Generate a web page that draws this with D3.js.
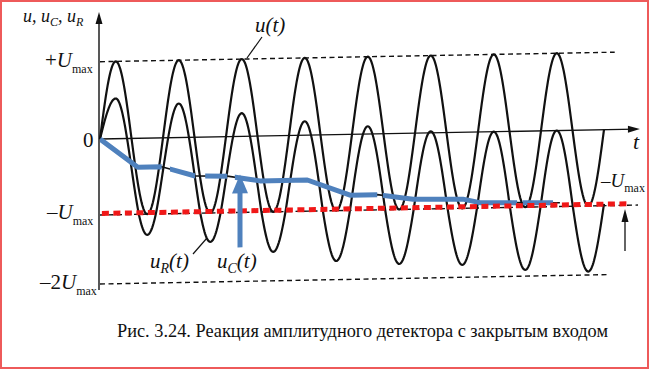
<!DOCTYPE html>
<html>
<head>
<meta charset="utf-8">
<script src="https://cdn.jsdelivr.net/npm/d3@7"></script>
<style>
  body { margin: 0; background: #fff; }
  text { fill: #111; }
  .it { font-style: italic; }
</style>
</head>
<body>
<svg id="vis" width="650" height="371" font-family="Liberation Serif, Times New Roman, DejaVu Serif, serif"></svg>
<script>
// time in periods of u(t); values in units of Umax
const extremeTimes = [0.25, 0.75, 1.25, 1.75, 2.25, 2.75, 3.25, 3.75, 4.25, 4.75, 5.25, 5.75, 6.25, 6.75, 7.25, 7.75, 8.25];
const uExtremes  = [1, -1, 1, -1, 1, -1, 1, -1, 1, -1, 1, -1, 1, -1, 1, -1, 1];
const uRExtremes = [0.52, -1.30, 0.44, -1.42, 0.30, -1.58, 0.18, -1.73, 0.10, -1.79, 0.02, -1.82, 0, -1.91, 0, -1.95, 0];
const tEnd = 8;

// capacitor voltage u_C(t)
const ucTimes  = [0, 0.60, 0.98, 1.51, 2.02, 2.54, 3.29, 3.97, 4.40, 4.97, 5.76, 6.03, 7.30];
const ucValues = [0, -0.38, -0.38, -0.51, -0.52, -0.59, -0.59, -0.80, -0.80, -0.87, -0.88, -0.93, -0.95];
// pieces of the blue overlay (gaps let the black line show)
const blueSegments = [[0, 0.98], [1.11, 1.51], [1.67, 2.02], [2.14, 4.40], [4.49, 6.62], [6.71, 7.19]];

// level lines: [value, t start, t end]
const levels = [[1, 0, 8.17], [-1, 0, 8.54], [-2, 0, 8.05]];

const svg = d3.select("#vis");
const x = d3.scaleLinear().domain([0, 8]).range([100, 604]);
const y = d3.scaleLinear().domain([-2, -1, 0, 1]).range([284, 215, 139, 61.7]);

// red frame
svg.append("rect").attr("x", 1).attr("y", 1).attr("width", 647).attr("height", 367)
  .attr("fill", "none").attr("stroke", "#ee5a5a").attr("stroke-width", 2);

// scan is slightly skewed
const g = svg.append("g")
  .attr("transform", `translate(${x(0)},${y(0)}) skewY(-1.06) translate(${-x(0)},${-y(0)})`);

const wave = (t, times, vals) => {
  if (t <= times[0]) return vals[0] * Math.sin(Math.PI / 2 * t / times[0]);
  const i = d3.bisectRight(times, t) - 1;
  const f = (1 - Math.cos(Math.PI * (t - times[i]) / (times[i + 1] - times[i]))) / 2;
  return vals[i] + (vals[i + 1] - vals[i]) * f;
};
const ts = d3.range(0, tEnd + 0.0001, 0.01);
const line = d3.line().x(d => x(d[0])).y(d => y(d[1]));

// level lines
g.selectAll("line.lvl").data(levels).join("line").attr("class", "lvl")
  .attr("x1", d => x(d[1])).attr("x2", d => x(d[2]))
  .attr("y1", d => y(d[0])).attr("y2", d => y(d[0]))
  .attr("stroke", "#111").attr("stroke-width", 1.4).attr("stroke-dasharray", "5,3.5");

// axes
g.append("line").attr("x1", x(0) - 1).attr("x2", x(0) - 1).attr("y1", 290).attr("y2", 20)
  .attr("stroke", "#111").attr("stroke-width", 1.4);
g.append("path").attr("d", `M${x(0) - 1},12 l-3.5,12 l7,0 z`).attr("fill", "#111");
g.append("line").attr("x1", x(0)).attr("x2", x(8.5)).attr("y1", y(0)).attr("y2", y(0))
  .attr("stroke", "#111").attr("stroke-width", 1.4);
g.append("path").attr("d", `M${x(8.57)},${y(0)} l-12,-3.5 l0,7 z`).attr("fill", "#111");

// u(t) and u_R(t)
g.append("path").datum(ts.map(t => [t, wave(t, extremeTimes, uExtremes)]))
  .attr("d", line).attr("fill", "none").attr("stroke", "#111").attr("stroke-width", 2.2);
g.append("path").datum(ts.map(t => [t, wave(t, extremeTimes, uRExtremes)]))
  .attr("d", line).attr("fill", "none").attr("stroke", "#111").attr("stroke-width", 2.2);

// u_C staircase (black) and the blue overlay
const ucData = ucTimes.map((t, i) => [t, ucValues[i]]);
g.append("path").datum(ucData).attr("d", line)
  .attr("fill", "none").attr("stroke", "#111").attr("stroke-width", 1.6);

const defs = svg.append("defs");
blueSegments.forEach((s, i) => {
  defs.append("clipPath").attr("id", "seg" + i)
    .append("rect").attr("x", x(s[0])).attr("width", x(s[1]) - x(s[0]))
    .attr("y", 0).attr("height", 371);
  g.append("path").datum(ucData).attr("d", line)
    .attr("clip-path", `url(#seg${i})`)
    .attr("fill", "none").attr("stroke", "#4f81bd").attr("stroke-width", 5)
    .attr("stroke-linejoin", "round");
});

// red dotted -Umax
g.append("line").attr("x1", x(0.03)).attr("x2", x(8.42))
  .attr("y1", y(-1) - 1.5).attr("y2", y(-1) - 1.5)
  .attr("stroke", "#f01818").attr("stroke-width", 5).attr("stroke-dasharray", "7,4.5");

// blue arrow to u_C
g.append("line").attr("x1", 240).attr("x2", 240).attr("y1", 250).attr("y2", 194)
  .attr("stroke", "#4f81bd").attr("stroke-width", 5);
g.append("path").attr("d", "M240,177 l-8,19 l16,0 z").attr("fill", "#4f81bd");

// small black arrow on the right
svg.append("line").attr("x1", 625).attr("x2", 625).attr("y1", 251).attr("y2", 220)
  .attr("stroke", "#111").attr("stroke-width", 1.3);
svg.append("path").attr("d", "M625,209 l-3.5,13 l7,0 z").attr("fill", "#111");

// leader lines
svg.append("line").attr("x1", 262).attr("y1", 37).attr("x2", 247).attr("y2", 58)
  .attr("stroke", "#111").attr("stroke-width", 1.2);
svg.append("line").attr("x1", 193).attr("y1", 254).attr("x2", 207).attr("y2", 238)
  .attr("stroke", "#111").attr("stroke-width", 1.2);

// labels
const label = (xp, yp, parts, size) => {
  const t = svg.append("text").attr("x", xp).attr("y", yp).attr("font-size", size);
  parts.forEach(p => {
    t.append("tspan").text(p.s)
      .attr("class", p.i ? "it" : null)
      .attr("font-size", p.f || null)
      .attr("dy", p.dy || null);
  });
  return t;
};

label(23, 22, [{s: "u, u", i: 1}, {s: "C", i: 1, f: 12, dy: 4}, {s: ", u", i: 1, dy: -4}, {s: "R", i: 1, f: 12, dy: 4}], 18);
label(45, 67, [{s: "+"}, {s: "U", i: 1}, {s: "max", f: 12, dy: 6}], 21);
label(83, 147, [{s: "0"}], 21);
label(47, 219, [{s: "\u2013"}, {s: "U", i: 1}, {s: "max", f: 12, dy: 6}], 21);
label(40, 289, [{s: "\u20132"}, {s: "U", i: 1}, {s: "max", f: 12, dy: 6}], 21);
label(601, 187, [{s: "\u2013"}, {s: "U", i: 1}, {s: "max", f: 12, dy: 5}], 19);
label(633, 149, [{s: "t", i: 1}], 22);
label(255, 32, [{s: "u(t)", i: 1}], 21);
label(150, 268, [{s: "u", i: 1}, {s: "R", i: 1, f: 14, dy: 5}, {s: "(t)", i: 1, dy: -5}], 21);
label(217, 268, [{s: "u", i: 1}, {s: "C", i: 1, f: 14, dy: 5}, {s: "(t)", i: 1, dy: -5}], 21);

svg.append("text").attr("x", 117).attr("y", 337).attr("font-size", 19)
  .attr("textLength", 491).attr("lengthAdjust", "spacingAndGlyphs")
  .text("Рис. 3.24. Реакция амплитудного детектора с закрытым входом");
</script>
</body>
</html>
